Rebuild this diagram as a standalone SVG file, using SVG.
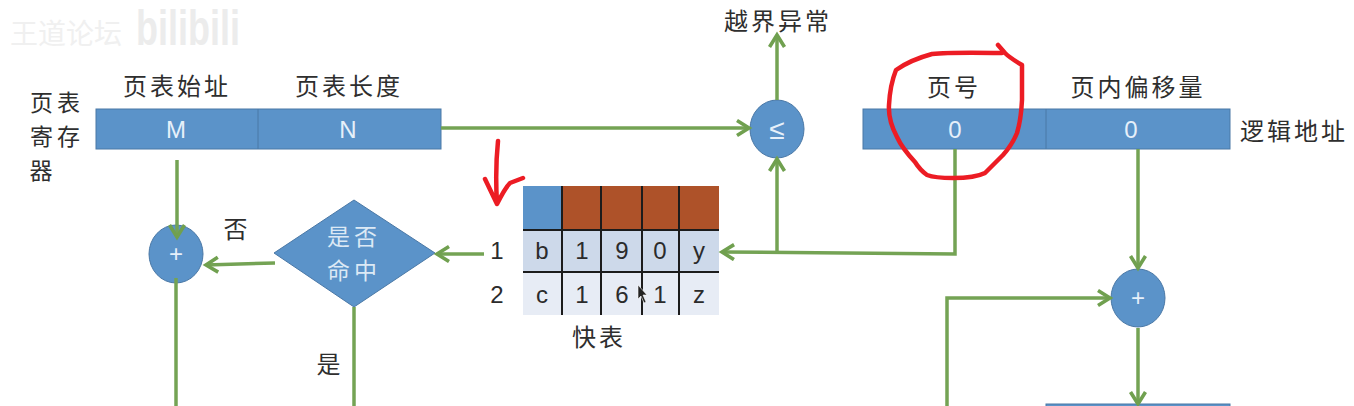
<svg xmlns="http://www.w3.org/2000/svg" width="1354" height="406" viewBox="0 0 1354 406">
<defs>
<marker id="arr" markerUnits="userSpaceOnUse" markerWidth="18" markerHeight="20" refX="14" refY="9" orient="auto"><path d="M2 1.5L14 9L2 16.5" fill="none" stroke="#70a04f" stroke-width="3.6"/></marker>
</defs>
<style>
.t{font-family:"Noto Sans CJK SC","Noto Sans",sans-serif;font-size:24px;letter-spacing:3px;fill:#2e2e2e;text-anchor:middle}
.m{font-size:23px;letter-spacing:4px}
.w{font-family:"Liberation Sans",sans-serif;font-size:24px;fill:#e6f0fa;text-anchor:middle}
.d{font-family:"Liberation Sans",sans-serif;font-size:24px;fill:#2b2b2b;text-anchor:middle}
.b{fill:#5b93c9;stroke:#4a78a6;stroke-width:1}
.c{fill:none;stroke:#74a354;stroke-width:3.5}
.g{stroke:#1c1c1c;stroke-width:2;fill:none}
.r{fill:none;stroke:#ec1c24;stroke-width:4.5;stroke-linejoin:round;stroke-linecap:round}
</style>
<rect width="1354" height="406" fill="#fff"/>
<g id="watermark">
<text x="66" y="44" font-family="'Noto Sans CJK SC',sans-serif" font-size="28" fill="#f0f0f0" text-anchor="middle">王道论坛</text>
<text x="188" y="45" font-family="'Liberation Sans',sans-serif" font-size="50" font-weight="700" fill="#ececec" text-anchor="middle" textLength="104" lengthAdjust="spacingAndGlyphs">bilibili</text>
</g>
<g id="page-register">
<rect class="b" x="96" y="109" width="345" height="40"/>
<path class="b" d="M258 109V149"/>
<text class="w" x="176" y="138">M</text>
<text class="w" x="348" y="138">N</text>
<text class="t" x="177" y="95">页表始址</text>
<text class="t" x="349" y="95">页表长度</text>
<text class="t m" x="57" y="111">页表</text>
<text class="t m" x="57" y="145">寄存</text>
<text class="t m" x="43" y="179">器</text>
</g>
<g id="logical-address">
<rect class="b" x="863" y="109" width="367" height="40"/>
<path class="b" d="M1046 109V149"/>
<text class="w" x="955" y="138">0</text>
<text class="w" x="1131" y="138">0</text>
<text class="t" x="954" y="96">页号</text>
<text class="t" x="1138" y="96">页内偏移量</text>
<text class="t" x="1294" y="140">逻辑地址</text>
</g>
<g id="compare"><ellipse class="b" cx="777" cy="129" rx="27" ry="29"/><text class="w" x="777" y="139" style="font-size:28px">≤</text></g>
<text class="t" x="778" y="30" id="overflow">越界异常</text>
<g id="add-left"><ellipse class="b" cx="176" cy="254" rx="27" ry="29"/><text class="w" x="176" y="262">+</text></g>
<g id="hit"><polygon class="b" points="274,253 354,200 435,253 354,307"/>
<text class="t m" x="354" y="245" style="fill:#dce9f5">是否</text>
<text class="t m" x="354" y="279" style="fill:#dce9f5">命中</text></g>
<text class="t" x="237" y="238" id="no">否</text>
<text class="t" x="330" y="373" id="yes">是</text>
<g id="tlb">
<rect x="523" y="186" width="39" height="44" fill="#5b93c9"/>
<rect x="562" y="186" width="157" height="44" fill="#ae5229"/>
<rect x="523" y="230" width="196" height="42" fill="#cdd9ea"/>
<rect x="523" y="272" width="196" height="43" fill="#e7ecf5"/>
<path class="g" d="M562 186V315M601 186V315M642 186V315M679 186V315M523 230H719M523 272H719"/>
<text class="d" x="542" y="259">b</text><text class="d" x="582" y="259">1</text><text class="d" x="622" y="259">9</text><text class="d" x="660" y="259">0</text><text class="d" x="699" y="259">y</text>
<text class="d" x="542" y="303">c</text><text class="d" x="582" y="303">1</text><text class="d" x="622" y="303">6</text><text class="d" x="660" y="303">1</text><text class="d" x="699" y="303">z</text>
<text class="d" x="497" y="259">1</text><text class="d" x="497" y="303">2</text>
<text class="t" x="599" y="346">快表</text>
</g>
<polygon id="cursor" points="638,285 638,299 641,296 644,303 646,302 643,295 647,295" fill="#222" stroke="#fff" stroke-width="0.6"/>
<g id="add-right"><ellipse class="b" cx="1138" cy="298" rx="27" ry="29"/><text class="w" x="1138" y="306">+</text></g>
<rect id="bottom-bar" class="b" x="1046" y="404" width="184" height="4"/>
<g id="connectors">
<path class="c" d="M441 128H749" marker-end="url(#arr)"/>
<path class="c" d="M177 160V237" marker-end="url(#arr)"/>
<path class="c" d="M275 263L206 265" marker-end="url(#arr)"/>
<path class="c" d="M484 254H437" marker-end="url(#arr)"/>
<path class="c" d="M176 278V406"/>
<path class="c" d="M354 307V406"/>
<path class="c" d="M955 149V254L722 252" marker-end="url(#arr)"/>
<path class="c" d="M777 252V159" marker-end="url(#arr)"/>
<path class="c" d="M777 100V35" marker-end="url(#arr)"/>
<path class="c" d="M1138 149V268" marker-end="url(#arr)"/>
<path class="c" d="M947 406V298H1110" marker-end="url(#arr)"/>
<path class="c" d="M1138 328V404" marker-end="url(#arr)"/>
</g>
<path class="r" d="M998 45L1005 53Q1010 58 1022 65L1022 100Q1021 120 1017 133Q1012 145 1003 155L985 173Q975 178 953 178Q935 178 927 175Q920 170 915 162Q902 148 897 137Q888 120 889 105Q890 85 896 70Q910 60 932 54Q950 52 1002 53"/>
<path class="r" d="M498 141Q495 170 497 204M485 179L497 204Q505 188 510 183L523 178"/>
</svg>
